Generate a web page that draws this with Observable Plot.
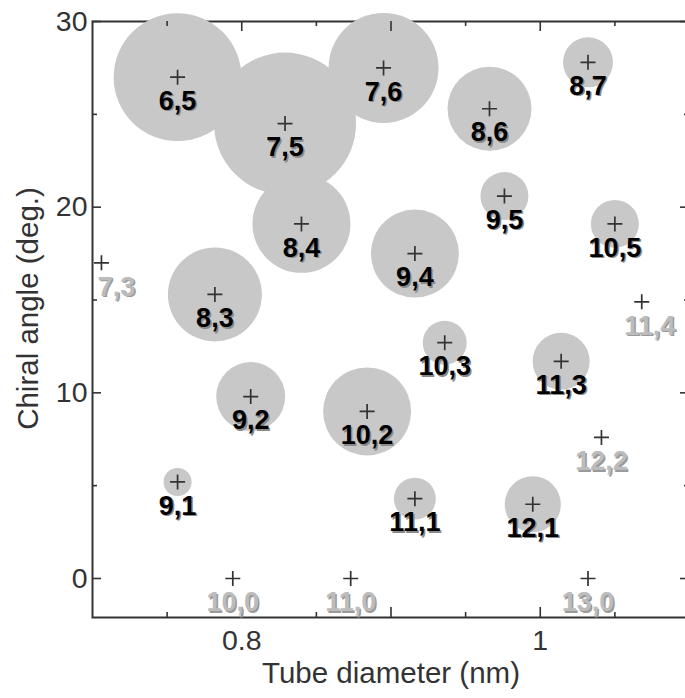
<!DOCTYPE html>
<html><head><meta charset="utf-8">
<script src="https://cdn.jsdelivr.net/npm/d3@7"></script>
<script src="https://cdn.jsdelivr.net/npm/@observablehq/plot@0.6"></script>
<style>body{margin:0;background:#fff}</style>
</head><body><div id="chart"></div>
<script>
// (n,m) chirality, tube diameter (nm), chiral angle (deg), relative PL intensity (0 = not observed)
const chirality   = ["6,5","7,5","7,6","8,6","8,7","9,5","10,5","8,4","9,4","7,3","8,3","11,4","10,3","11,3","9,2","10,2","12,2","9,1","11,1","12,1","10,0","11,0","13,0"];
const diameter    = [0.757,0.829,0.895,0.966,1.032,0.976,1.050,0.840,0.916,0.706,0.782,1.068,0.936,1.014,0.806,0.884,1.041,0.757,0.916,0.995,0.794,0.873,1.032];
const chiralAngle = [27.0,24.5,27.5,25.3,27.8,20.6,19.1,19.1,17.5,17.0,15.3,14.9,12.7,11.7,9.8,9.0,7.6,5.2,4.3,4.0,0,0,0];
const intensity   = [81,100,60,35,12.4,11.4,11.4,47.6,38.4,0,43.8,0,9.6,16.1,23.6,38.4,0,3.9,8.7,15.6,0,0,0];

const xDomain = [0.7, 1.1];
const yDomain = [-2.1, 30];
const xMajorTicks = [0.8, 0.9, 1.0];
const xMinorTicks = [0.75, 0.85, 0.95, 1.05];
const xTickLabels = [0.8, 1];
const yMajorTicks = [0, 10, 20, 30];
const yMinorTicks = [5, 15, 25];

const data = chirality.map((c, i) => ({c, d: diameter[i], a: chiralAngle[i], v: intensity[i]}));
const seen = data.filter(p => p.v > 0);
const unseen = data.filter(p => p.v <= 0);

const W = 685, H = 698, mt = 21, mb = 81, ml = 92, mr = -4;
const frameW = W - ml - mr, frameH = H - mt - mb;

const ink = "#333";
const font = "'Liberation Sans', Arial, sans-serif";
const labelStyle = {fontFamily: font, fontWeight: "bold", fontSize: 27};
const nudge = p => p.d < 0.72 ? 15 : (p.d > 1.06 ? 8 : 0);

const labelMarks = (arr, fill, shadow) => {
  const out = [];
  for (const sh of [0, 15, 8]) {
    const sub = arr.filter(p => nudge(p) === sh);
    out.push(Plot.text(sub, {x: "d", y: "a", text: "c", fill: shadow, dy: 25.5, dx: sh + 1.5, ...labelStyle}));
    out.push(Plot.text(sub, {x: "d", y: "a", text: "c", fill, dy: 24, dx: sh, ...labelStyle}));
  }
  return out;
};

// inward tick marks: rules spanning the frame, inset so only a short piece remains at each edge
const sideTicks = (ticks, len, side, color) => {
  const opts = {stroke: color, strokeWidth: 1.6};
  if (side === "bottom") return Plot.ruleX(ticks, {x: d => d, insetTop: frameH - len, ...opts});
  if (side === "top") return Plot.ruleX(ticks, {x: d => d, insetBottom: frameH - len, ...opts});
  if (side === "left") return Plot.ruleY(ticks, {y: d => d, insetRight: frameW - len, ...opts});
  return Plot.ruleY(ticks, {y: d => d, insetLeft: frameW - len, ...opts});
};
const allTicks = color => [
  sideTicks(xMajorTicks, 10, "bottom", color), sideTicks(xMinorTicks, 5, "bottom", color),
  sideTicks(xMajorTicks, 10, "top", color), sideTicks(xMinorTicks, 5, "top", color),
  sideTicks(yMajorTicks, 9, "left", color), sideTicks(yMinorTicks, 5, "left", color),
  sideTicks(yMajorTicks, 9, "right", color), sideTicks(yMinorTicks, 5, "right", color)
];

const chart = Plot.plot({
  width: W,
  height: H,
  marginTop: mt,
  marginBottom: mb,
  marginLeft: ml,
  marginRight: mr,
  style: {fontFamily: font, background: "#fff"},
  x: {domain: xDomain},
  y: {domain: yDomain},
  r: {domain: [0, 100], range: [0, 71]},
  marks: [
    Plot.frame({stroke: ink, strokeWidth: 2}),
    Plot.axisX(xTickLabels, {anchor: "bottom", tickSize: 0, tickPadding: 12, fontSize: 28.5, label: null, fill: ink, tickFormat: d => String(d)}),
    Plot.axisY(yMajorTicks, {anchor: "left", tickSize: 0, tickPadding: 5, fontSize: 28.5, label: null, fill: ink}),
    Plot.text(["Tube diameter (nm)"], {frameAnchor: "bottom", text: d => d, lineAnchor: "middle", textAnchor: "middle", dy: 56, fontSize: 29.5, fill: ink}),
    Plot.text(["Chiral angle (deg.)"], {frameAnchor: "left", text: d => d, rotate: -90, lineAnchor: "middle", textAnchor: "middle", dx: -64, dy: -11, fontSize: 29.5, fill: ink}),
    Plot.dot(seen, {x: "d", y: "a", r: "v", fill: "#c8c8c8"}),
    ...allTicks(ink),
    Plot.dot(data, {x: "d", y: "a", r: 4.9, symbol: "plus", stroke: ink, strokeWidth: 1.7}),
    ...labelMarks(seen, "#000", "#8a8a8a"),
    ...labelMarks(unseen, "#bcbcbc", "#9a9a9a")
  ]
});
document.getElementById("chart").appendChild(chart);
</script>
</body></html>
